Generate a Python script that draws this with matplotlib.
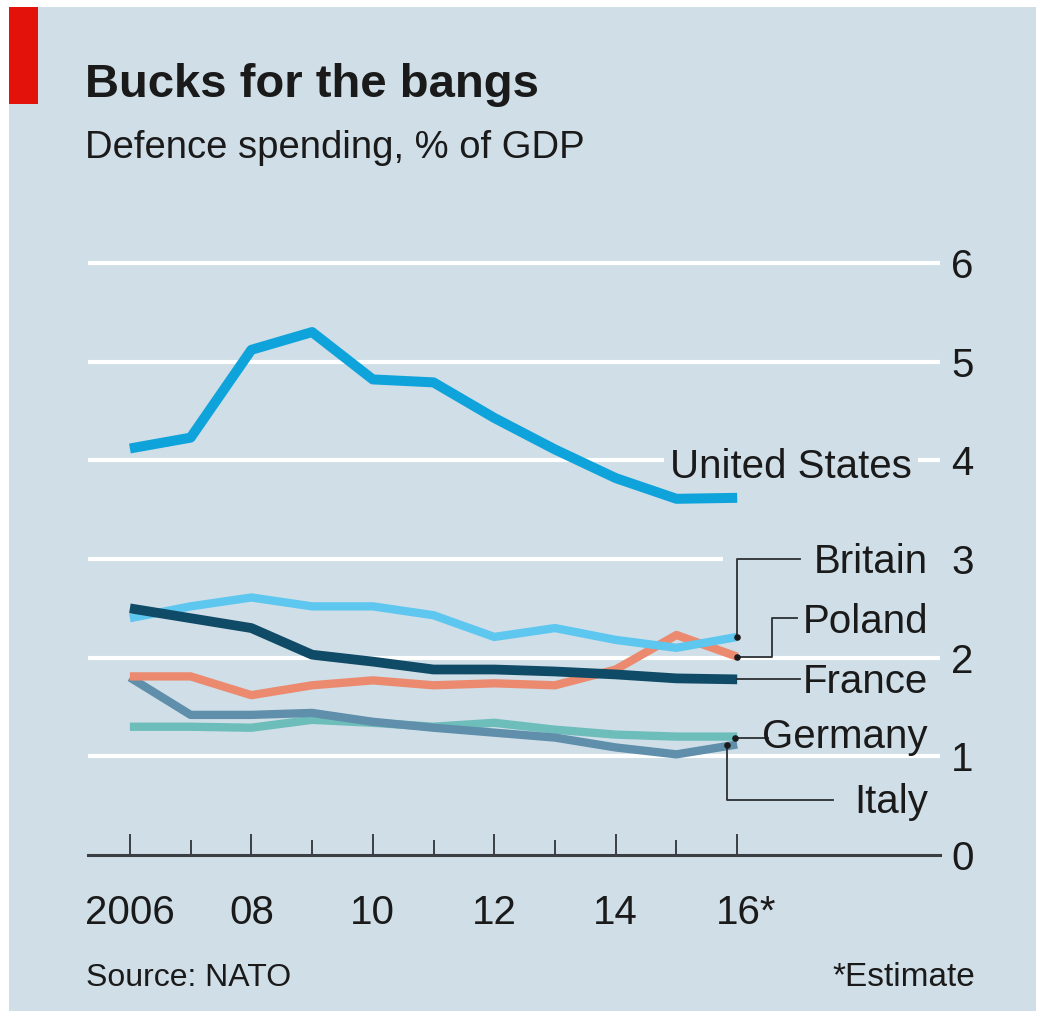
import matplotlib
matplotlib.use('Agg')
import matplotlib.pyplot as plt
from matplotlib.patches import Rectangle

years = list(range(2006, 2017))
us = [4.12, 4.23, 5.12, 5.30, 4.82, 4.79, 4.43, 4.11, 3.82, 3.61, 3.62]
britain = [2.40, 2.52, 2.61, 2.52, 2.52, 2.43, 2.21, 2.30, 2.18, 2.10, 2.21]
france = [2.50, 2.40, 2.30, 2.03, 1.96, 1.88, 1.88, 1.86, 1.83, 1.79, 1.78]
poland = [1.81, 1.81, 1.62, 1.72, 1.77, 1.72, 1.74, 1.72, 1.88, 2.23, 2.01]
germany = [1.30, 1.30, 1.29, 1.37, 1.34, 1.30, 1.34, 1.27, 1.22, 1.20, 1.20]
italy = [1.80, 1.42, 1.42, 1.44, 1.35, 1.29, 1.24, 1.19, 1.09, 1.02, 1.12]

y_ticks = [0, 1, 2, 3, 4, 5, 6]
x_ticks = [2006, 2008, 2010, 2012, 2014, 2016]
x_tick_labels = ['2006', '08', '10', '12', '14', '16*']

W, H = 1038, 1011
bg = '#cfdee7'
ink = '#1a1a1a'
plt.rcParams['font.family'] = ['Liberation Sans', 'DejaVu Sans']

fig = plt.figure(figsize=(W / 100, H / 100), dpi=100)
fig.patch.set_facecolor('white')
# panel with thin white margin
fig.patches.append(Rectangle((9 / W, 0), 1 - 11 / W, 1 - 7 / H, transform=fig.transFigure,
                             facecolor=bg, edgecolor='none', zorder=0))
fig.patches.append(Rectangle((9 / W, 1 - 104 / H), 29 / W, 97 / H, transform=fig.transFigure,
                             facecolor='#e3120b', edgecolor='none', zorder=1))

def fx(px):
    return px / W

def fy(py):
    return 1 - py / H

ax = fig.add_axes([fx(88), fy(855), (940 - 88) / W, (855 - 263) / H])
ax.set_zorder(2)
ax.set_facecolor('none')
ax.set_xlim(2005.31, 2019.34)
ax.set_ylim(0, 6)
for s in ax.spines.values():
    s.set_visible(False)
ax.set_xticks([])
ax.set_yticks([])

# gridlines (broken where labels sit)
grid = dict(color='white', lw=3, solid_capstyle='butt', zorder=1, clip_on=False)
for v in y_ticks[1:]:
    if v == 3:
        ax.plot([2005.31, 2015.77], [v, v], **grid)
    elif v == 4:
        ax.plot([2005.31, 2014.80], [v, v], **grid)
        ax.plot([2018.98, 2019.34], [v, v], **grid)
    else:
        ax.plot([2005.31, 2019.34], [v, v], **grid)
ax.plot([2005.31, 2019.34], [0, 0], color='#3a3f44', lw=2.2, zorder=2, clip_on=False)
for yr in years:
    h = 0.2 if yr in x_ticks else 0.14
    ax.plot([yr, yr], [0, h], color='#3a3f44', lw=1.4, zorder=2, clip_on=False)

# series
ax.plot(years, germany, color='#6dbdbb', lw=6, zorder=3, clip_on=False, solid_capstyle='butt')
ax.plot(years, italy, color='#5f8faa', lw=6, zorder=4, clip_on=False, solid_capstyle='butt')
ax.plot(years, poland, color='#ec8a6f', lw=6, zorder=5, clip_on=False, solid_capstyle='butt')
ax.plot(years, britain, color='#5ec7ef', lw=6, zorder=6, clip_on=False, solid_capstyle='butt')
ax.plot(years, france, color='#0f4a66', lw=7, zorder=7, clip_on=False, solid_capstyle='butt')
ax.plot(years, us, color='#0fa3db', lw=7.2, zorder=8, clip_on=False, solid_capstyle='butt')

# leader lines
lc = dict(color='#2a2f33', lw=1.3, zorder=9, clip_on=False)
ax.plot([2016, 2016, 2017.04], [britain[-1], 3.0, 3.0], **lc)
ax.plot([2016, 2016.58, 2016.58, 2016.99], [poland[-1], poland[-1], 2.40, 2.40], **lc)
ax.plot([2016, 2017.04], [france[-1], france[-1]], **lc)
ax.plot([2015.97, 2016.51], [1.19, 1.19], **lc)
ax.plot([2015.84, 2015.84, 2017.57], [1.11, 0.56, 0.56], **lc)
ax.scatter([2016, 2016, 2015.97, 2015.84], [britain[-1], poland[-1], 1.19, 1.11],
           s=14, color='#1a1a1a', zorder=10, clip_on=False)

# series labels
lab = dict(fontsize=29, color=ink, ha='right', va='baseline')
fig.text(fx(912), fy(478), 'United States', **lab)
fig.text(fx(928), fy(573), 'Britain', **lab)
fig.text(fx(928), fy(633), 'Poland', **lab)
fig.text(fx(928), fy(693), 'France', **lab)
fig.text(fx(928), fy(748), 'Germany', **lab)
fig.text(fx(928), fy(813), 'Italy', **lab)

# y tick labels on right
for v in y_ticks:
    py = 855 - v * (855 - 263) / 6
    fig.text(fx(951), fy(py + 15), str(v), fontsize=29, color=ink, ha='left', va='baseline')

# x tick labels
for t, l in zip(x_ticks, x_tick_labels):
    px = 130 + (t - 2006) * 60.7
    if l.endswith('*'):
        fig.text(fx(px - 21), fy(924), l, fontsize=29, color=ink, ha='left', va='baseline')
    else:
        fig.text(fx(px), fy(924), l, fontsize=29, color=ink, ha='center', va='baseline')

fig.text(fx(85), fy(97), 'Bucks for the bangs', fontsize=34, fontweight='bold', color=ink,
         ha='left', va='baseline')
fig.text(fx(85), fy(158), 'Defence spending, % of GDP', fontsize=27.5, color=ink,
         ha='left', va='baseline')
fig.text(fx(86), fy(986), 'Source: NATO', fontsize=23, color=ink, ha='left', va='baseline')
fig.text(fx(975), fy(986), '*Estimate', fontsize=24, color=ink, ha='right', va='baseline')

fig.savefig('out.png', dpi=100, facecolor=fig.get_facecolor())
